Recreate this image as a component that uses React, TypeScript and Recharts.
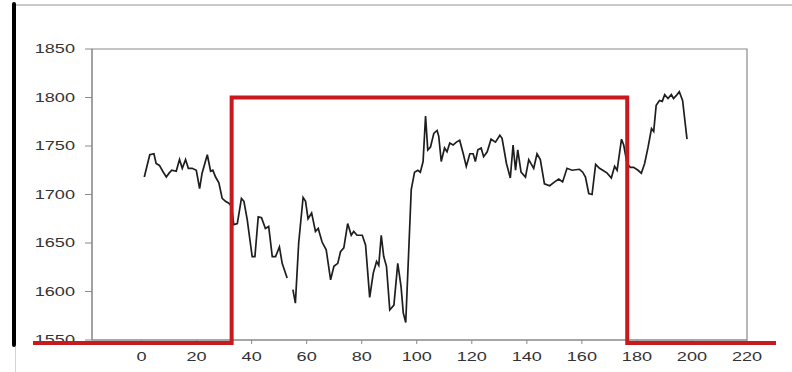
import React from "react";
import { LineChart, Line, XAxis, YAxis, ReferenceArea } from "recharts";

// Sample index of each reading (gap at 54 where no reading was recorded)
const sampleIndex = [
  1, 3, 4.5, 5.3, 6.5, 7.7, 9, 10, 11, 12.6, 13.8, 14.8, 16, 17, 18.4, 19.9, 21.1, 22, 23.9, 25.1,
  25.9, 26.9, 28.1, 29.3, 30.5, 31.7, 32.7, 33.5, 34.8, 36.3, 37.2, 38.4, 40.2, 41.2, 42.4, 43.6, 45, 46.2, 47.5, 48.7,
  50.1, 51.1, 52.9, 54, 55, 55.9, 57.1, 58.7, 59.6, 60.5, 61.8, 63.2, 64.2, 65.6, 67.1, 68.7, 69.9, 71.3, 72.3, 73.5,
  74.9, 76.2, 77.1, 78.3, 80.2, 81.4, 82.9, 84.2, 85.4, 86.2, 87.1, 88, 89, 90.2, 91.7, 93.1, 94.3, 95.1, 96, 97.1,
  98, 99.2, 100.4, 101.3, 102.3, 103.2, 104, 105, 106.2, 107.4, 108, 108.9, 110.1, 111, 112, 113.2, 114.4, 115.6, 116.9, 118,
  119.3, 120.5, 121.3, 122.2, 123.4, 124.3, 125.6, 127, 128.6, 130.2, 131, 132.6, 134, 135, 135.9, 136.7, 137.9, 139.5, 140.7, 142.5,
  143.7, 144.9, 146.4, 148.3, 150.1, 151.6, 153, 154.6, 156.4, 159.1, 160.3, 161.3, 162.5, 163.7, 165, 166.4, 167.6, 169.2, 170.7, 171.9,
  172.8, 174.4, 175.2, 176.4, 177.6, 178.8, 180.4, 181.6, 182.8, 184, 185.3, 186.1, 187, 188.2, 189.2, 190.1, 191.3, 192.5, 193.3, 194.6,
  195.4, 196.6, 197.4, 198.2,
];

const readings: (number | null)[] = [
  1718, 1741, 1742, 1732, 1730, 1724, 1718, 1722, 1725, 1724, 1736, 1727, 1736, 1727, 1727, 1725, 1706, 1722, 1741, 1724,
  1725, 1718, 1712, 1696, 1693, 1691, 1688, 1669, 1670, 1696, 1693, 1674, 1636, 1636, 1677, 1676, 1665, 1667, 1636, 1636,
  1646, 1629, 1614, null, 1602, 1588, 1650, 1697, 1693, 1675, 1681, 1662, 1665, 1651, 1643, 1612, 1626, 1629, 1641, 1645,
  1670, 1658, 1662, 1658, 1658, 1648, 1594, 1619, 1631, 1627, 1658, 1636, 1626, 1581, 1586, 1629, 1605, 1578, 1568, 1643,
  1705, 1723, 1725, 1723, 1734, 1781, 1746, 1749, 1763, 1766, 1760, 1734, 1748, 1744, 1753, 1751, 1754, 1756, 1742, 1729,
  1742, 1742, 1734, 1746, 1748, 1739, 1744, 1757, 1754, 1761, 1758, 1732, 1717, 1751, 1725, 1746, 1723, 1718, 1736, 1727,
  1742, 1736, 1711, 1709, 1713, 1716, 1713, 1727, 1725, 1726, 1723, 1718, 1701, 1700, 1731, 1727, 1725, 1722, 1717, 1729,
  1725, 1757, 1751, 1732, 1728, 1728, 1725, 1722, 1732, 1748, 1768, 1765, 1792, 1797, 1796, 1803, 1799, 1803, 1799, 1803,
  1806, 1797, 1777, 1757,
];

// Step signal: low level, raised window, then low again
const stepX = [-39, 33.1, 176.7, 230.7];
const stepLevel = [1547, 1800, 1547, 1547];

const xTicks = [0, 20, 40, 60, 80, 100, 120, 140, 160, 180, 200, 220];
const yTicks = [1550, 1600, 1650, 1700, 1750, 1800, 1850];

const seriesData = sampleIndex.map((x, i) => ({ x, value: readings[i] }));
const stepData = stepX.map((x, i) => ({ x, level: stepLevel[i] }));

const FONT = "'Liberation Sans', Arial, sans-serif";

const XTick = (props: any) => {
  const { x, y, payload } = props;
  return (
    <g transform={`translate(${x},${y}) scale(1.45,1)`}>
      <text x={0} y={0} dy="0.71em" textAnchor="middle" fill="#333" fontSize={12.5} fontFamily={FONT}>
        {payload.value}
      </text>
    </g>
  );
};

const YTick = (props: any) => {
  const { x, y, payload } = props;
  return (
    <g transform={`translate(${x},${y}) scale(1.45,1)`}>
      <text x={0} y={0} dy="0.355em" textAnchor="end" fill="#333" fontSize={12.5} fontFamily={FONT}>
        {payload.value}
      </text>
    </g>
  );
};

const layer: React.CSSProperties = { position: "absolute", left: 0, top: 0 };

export default function App() {
  return (
    <div
      style={{
        position: "absolute",
        left: 0,
        top: 0,
        width: 792,
        height: 372,
        overflow: "hidden",
        background: "#fff",
      }}
    >
      {/* frame lines */}
      <div style={{ position: "absolute", left: 14, top: 4, width: 778, height: 2, background: "#c9c9c9" }} />
      <div style={{ position: "absolute", left: 14.5, top: 347, width: 1, height: 25, background: "#d4d4d4" }} />
      <div
        style={{
          position: "absolute",
          left: 12,
          top: 2,
          width: 4,
          height: 345,
          background: "#000",
          borderRadius: 2,
        }}
      />

      <div style={layer}>
        <LineChart width={792} height={372} data={seriesData} margin={{ top: 49, right: 45, bottom: 2, left: 32 }}>
          <XAxis
            dataKey="x"
            type="number"
            domain={[-18, 220]}
            allowDataOverflow
            ticks={xTicks}
            interval={0}
            height={30}
            tickSize={4}
            tickMargin={8}
            stroke="#8a8a8a"
            tick={<XTick />}
          />
          <YAxis
            type="number"
            domain={[1550, 1850]}
            allowDataOverflow
            ticks={yTicks}
            interval={0}
            width={60}
            tickSize={7}
            tickMargin={10}
            stroke="#8a8a8a"
            tick={<YTick />}
          />
          <ReferenceArea
            x1={-18}
            x2={220}
            y1={1550}
            y2={1850}
            fill="none"
            stroke="#8a8a8a"
            strokeWidth={1.2}
          />
          <Line
            dataKey="value"
            type="linear"
            stroke="#1e1e1e"
            strokeWidth={1.7}
            dot={false}
            connectNulls={false}
            isAnimationActive={false}
          />
        </LineChart>
      </div>

      <div style={{ ...layer, pointerEvents: "none" }}>
        <LineChart width={792} height={372} data={stepData} margin={{ top: 49, right: 16, bottom: 22.3, left: 33 }}>
          <XAxis dataKey="x" type="number" domain={["dataMin", "dataMax"]} hide />
          <YAxis type="number" domain={[1540, 1850]} hide />
          <Line
            dataKey="level"
            type="stepAfter"
            stroke="#c81a1e"
            strokeWidth={4}
            dot={false}
            isAnimationActive={false}
          />
        </LineChart>
      </div>
    </div>
  );
}
